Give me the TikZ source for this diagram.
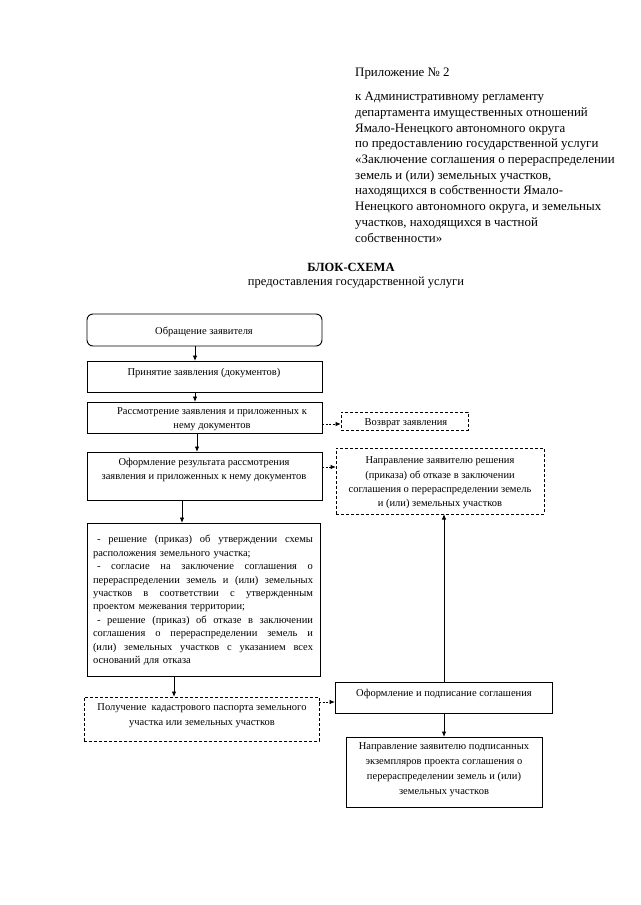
\documentclass[tikz,border=0pt]{standalone}
\usepackage{fontspec}
\setmainfont{Liberation Serif}
\usetikzlibrary{arrows.meta}
\newcommand{\jline}[1]{\leavevmode\hbox to 220pt{#1}}
\begin{document}
\begin{tikzpicture}[x=1pt,y=-1pt,
 box/.style={draw, line width=0.9pt, inner sep=0pt, outer sep=0pt},
 dbox/.style={box, dash pattern=on 3pt off 2pt},
 txt/.style={font=\fontsize{10.5}{14.5}\selectfont, align=center, inner sep=0pt},
 hdr/.style={font=\fontsize{12.9}{15.7}\selectfont, align=left, inner sep=0pt, anchor=north west},
 arr/.style={line width=0.9pt, -{Latex[length=5.5pt,width=4.5pt]}},
 darr/.style={arr, dash pattern=on 2pt off 1.5pt}]
\useasboundingbox (0,0) rectangle (640,905);

% header
\node[hdr] (h1) at (355,68) {Приложение № 2};
\node[hdr] (h2) at (355,92) {к Административному регламенту\\
департамента имущественных отношений\\
Ямало-Ненецкого автономного округа\\
по предоставлению государственной услуги\\
«Заключение соглашения о перераспределении\\
земель и (или) земельных участков,\\
находящихся в собственности Ямало-\\
Ненецкого автономного округа, и земельных\\
участков, находящихся в частной\\
собственности»};

\node[font=\fontsize{12.5}{15}\selectfont\bfseries, inner sep=0pt] (t1) at (351,267) {БЛОК-СХЕМА};
\node[font=\fontsize{12.5}{15}\selectfont, inner sep=0pt] (t2) at (356,283) {предоставления государственной услуги};

% boxes
\node[box, rounded corners=6pt, minimum width=235pt, minimum height=32pt] (b1) at (204.5,330) {};
\node[box, minimum width=235pt, minimum height=31pt] (b2) at (204.5,376.5) {};
\node[box, minimum width=235pt, minimum height=31pt] (b3) at (204.5,417.5) {};
\node[box, minimum width=235pt, minimum height=48pt] (b4) at (204.5,476) {};
\node[box, minimum width=233pt, minimum height=153pt] (b5) at (203.5,599.5) {};
\node[dbox, minimum width=127pt, minimum height=18pt] (ret) at (404.5,421) {};
\node[dbox, minimum width=208pt, minimum height=66pt] (ref) at (440,481) {};
\node[dbox, minimum width=235pt, minimum height=44pt] (kad) at (201.5,719) {};
\node[box, minimum width=217pt, minimum height=31pt] (sign) at (443.5,697.5) {};
\node[box, minimum width=196pt, minimum height=70pt] (send) at (444,772) {};

% texts
\node[txt] (tb1) at (204,331.5) {Обращение заявителя};
\node[txt] (tb2) at (204,372.5) {Принятие заявления (документов)};
\node[txt] (tb3) at (212,419) {Рассмотрение заявления и приложенных к\\нему документов};
\node[txt] (tb4) at (204,470) {Оформление результата рассмотрения\\заявления и приложенных к нему документов};
\node[txt] (tret) at (406,423) {Возврат заявления};
\node[txt, font=\fontsize{10.5}{14.3}\selectfont] (tref) at (440,483) {Направление заявителю решения\\(приказа) об отказе в заключении\\соглашения о перераспределении земель\\и (или) земельных участков};
\node[txt] (tkad) at (202,715.5) {Получение\ \ кадастрового паспорта земельного\\участка или земельных участков};
\node[txt] (tsign) at (444,694) {Оформление и подписание соглашения};
\node[txt, font=\fontsize{10.5}{15}\selectfont] (tsend) at (444,769.5) {Направление заявителю подписанных\\экземпляров проекта соглашения о\\перераспределении земель и (или)\\земельных участков};
\node[txt, font=\fontsize{10.5}{13.45}\selectfont, align=left, text width=220pt] (tb5) at (203,600.5) {%
\jline{\hspace{4pt}-\hfill решение\hfill (приказ)\hfill об\hfill утверждении\hfill схемы}\\
расположения земельного участка;\\
\jline{\hspace{4pt}-\hfill согласие\hfill на\hfill заключение\hfill соглашения\hfill о}\\
\jline{перераспределении\hfill земель\hfill и\hfill (или)\hfill земельных}\\
\jline{участков\hfill в\hfill соответствии\hfill с\hfill утвержденным}\\
проектом межевания территории;\\
\jline{\hspace{4pt}-\hfill решение\hfill (приказ)\hfill об\hfill отказе\hfill в\hfill заключении}\\
\jline{соглашения\hfill о\hfill перераспределении\hfill земель\hfill и}\\
\jline{(или)\hfill земельных\hfill участков\hfill с\hfill указанием\hfill всех}\\
оснований для отказа};

% connector coordinates
\coordinate (xa) at (195,0);
\coordinate (xb) at (197,0);
\coordinate (xc) at (182,0);
\coordinate (xd) at (174,0);
\coordinate (xe) at (444,0);
\coordinate (ya) at (0,424);
\coordinate (yb) at (0,467);
\coordinate (yc) at (0,702);

% connectors
\draw[arr] (b1.south -| xa) -- (b2.north -| xa);
\draw[arr] (b2.south -| xa) -- (b3.north -| xa);
\draw[arr] (b3.south -| xb) -- (b4.north -| xb);
\draw[darr] (b3.east |- ya) -- (ret.west |- ya);
\draw[darr] (b4.east |- yb) -- (ref.west |- yb);
\draw[arr] (b4.south -| xc) -- (b5.north -| xc);
\draw[arr] (b5.south -| xd) -- (kad.north -| xd);
\draw[darr] (kad.east |- yc) -- (sign.west |- yc);
\draw[arr] (sign.north -| xe) -- (ref.south -| xe);
\draw[arr] (sign.south -| xe) -- (send.north -| xe);
\end{tikzpicture}
\end{document}
